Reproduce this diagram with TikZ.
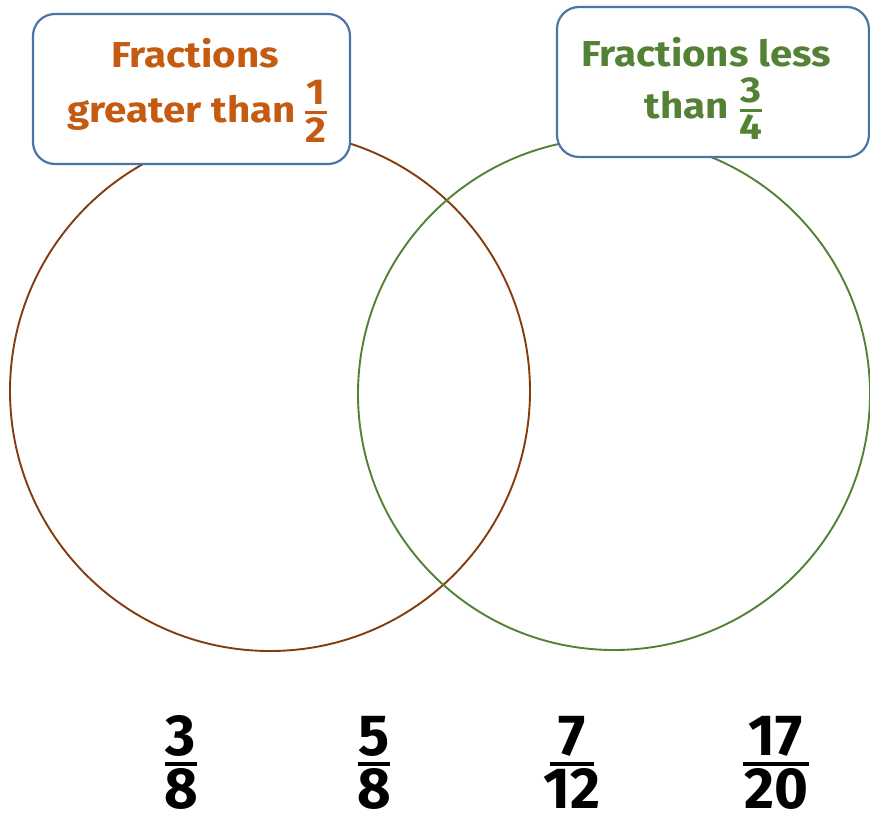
\documentclass[tikz,border=0pt]{standalone}
\usepackage{fontspec}
\setmainfont{Fira Sans}
\newfontfamily\headfont{Fira Sans}[FakeStretch=1.12]
\definecolor{orangetxt}{HTML}{C55A11}
\definecolor{browncirc}{HTML}{843C0C}
\definecolor{greenc}{HTML}{548235}
\definecolor{boxblue}{HTML}{4A76A6}
\tikzset{
  vcircle/.style={line width=1.9pt},
  labelbox/.style={draw=boxblue, line width=2.2pt, fill=white, rounded corners=22pt},
  headtxt/.style={font=\headfont\fontsize{36}{40}\selectfont\bfseries, anchor=base, inner sep=0pt},
  bigdigit/.style={font=\fontsize{58}{60}\selectfont\bfseries, anchor=base, inner sep=0pt},
}
\begin{document}
\begin{tikzpicture}[x=1pt,y=-1pt]
\useasboundingbox[fill=white] (0,0) rectangle (870,818);
% circles
\draw[vcircle, browncirc] (270,391) circle (260);
\draw[vcircle, greenc] (614,394) circle (256);
% boxes
\draw[labelbox] (33,14) rectangle (350,164);
\draw[labelbox] (557,7) rectangle (868.9,157);
% left header
\begin{scope}[text=orangetxt]
\node[headtxt] (l1) at (195,68) {Fractions};
\node[headtxt, anchor=base east] (l2) at (296,123) {greater than};
\node[headtxt] (ln) at (316,105) {1};
\node[headtxt] (ld) at (316,143) {2};
\end{scope}
\draw[orangetxt, line width=3pt] (305,113) -- (327,113);
% right header
\begin{scope}[text=greenc]
\node[headtxt] (r1) at (706,67) {Fractions less};
\node[headtxt, anchor=base east] (r2) at (729,119) {than};
\node[headtxt] (rn) at (751,103) {3};
\node[headtxt] (rd) at (751,140) {4};
\end{scope}
\draw[greenc, line width=3pt] (740,111) -- (762,111);
% bottom fractions
\node[bigdigit] (an) at (181,755) {3};
\node[bigdigit] (ad) at (181,808) {8};
\draw[line width=4pt] (165,764) -- (197,764);
\node[bigdigit] (bn) at (374,755) {5};
\node[bigdigit] (bd) at (374,808) {8};
\draw[line width=4pt] (358,764) -- (390,764);
\node[bigdigit] (cn) at (572,755) {7};
\node[bigdigit] (cd) at (572,808) {12};
\draw[line width=4pt] (550,764) -- (594,764);
\node[bigdigit] (dn) at (776,755) {17};
\node[bigdigit] (dd) at (776,808) {20};
\draw[line width=4pt] (743,764) -- (809,764);
\end{tikzpicture}
\end{document}
